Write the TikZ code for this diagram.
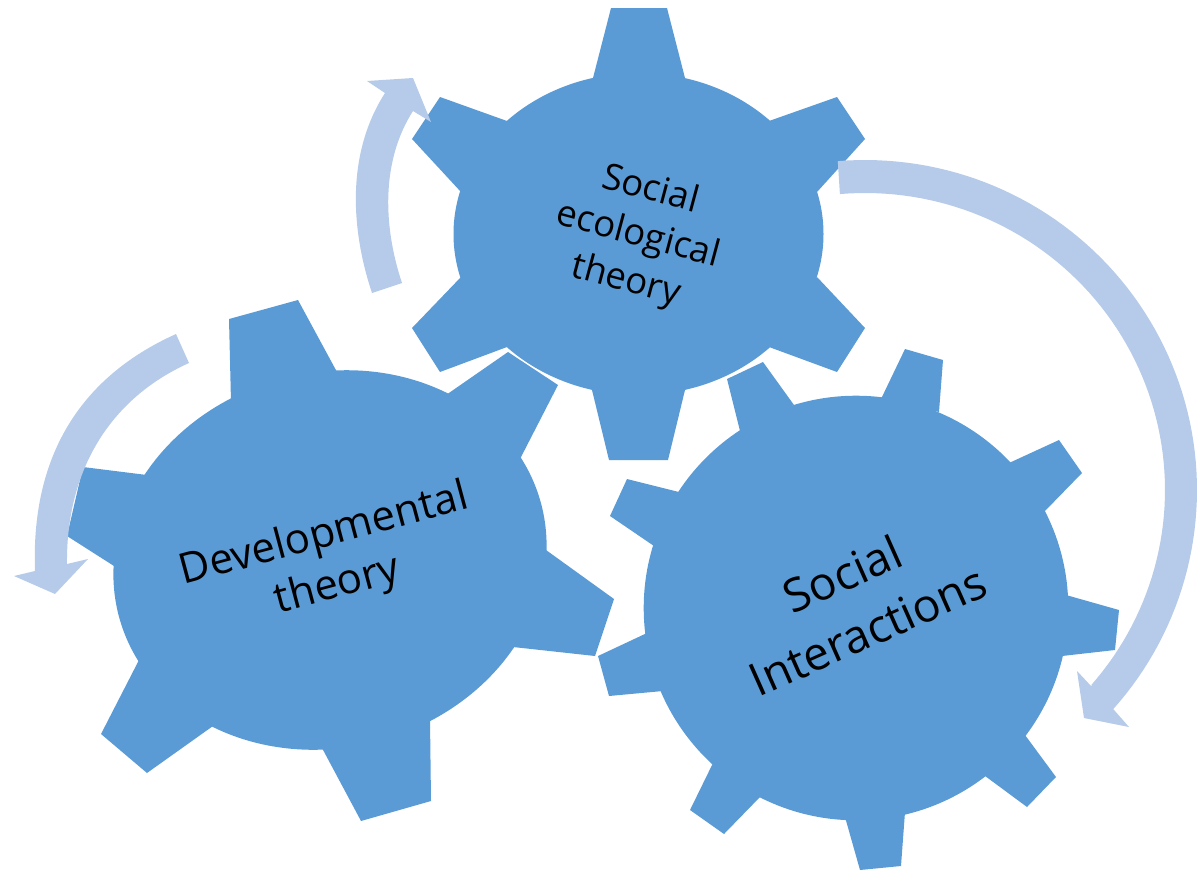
\documentclass[tikz,border=0pt]{standalone}
\usepackage{fontspec}
\setmainfont{Open Sans}
\definecolor{gearblue}{HTML}{5B9BD5}
\definecolor{arrowblue}{HTML}{B6CBE9}
\tikzset{
  gearhalo/.style={draw=white,line width=2pt,line join=miter},
  gearbody/.style={fill=gearblue},
  sweep/.style={fill=arrowblue,draw=none},
  gearlabel/.style={text=black,align=center,inner sep=0pt}
}
\newcommand{\devgear}[1]{%
  \path[#1,rotate around={15:(330,560)}] (330,560) ellipse [x radius=218.5pt,y radius=187.5pt];
  \path[#1] (231,402) -- (229,319) -- (298,300) -- (337,372) -- cycle;
  \path[#1] (446,395) -- (508,352) -- (558,385) -- (520,459) -- cycle;
  \path[#1] (546,550) -- (614,599) -- (595,656) -- (513,647) -- cycle;
  \path[#1] (430,719) -- (431,801) -- (361,821) -- (322,748) -- cycle;
  \path[#1] (213,726) -- (147,773) -- (101,734) -- (139,660) -- cycle;
  \path[#1] (114,566) -- (67,536) -- (83,467) -- (147,475) -- cycle;
}
\newcommand{\socgear}[1]{%
  \path[#1] (856,608) circle [radius=212.3pt];
  \path[#1] (740,431) -- (727,379) -- (763,362) -- (794,405) -- cycle;
  \path[#1] (881,399) -- (905,349) -- (943,360) -- (939,412) -- cycle;
  \path[#1] (1009,463) -- (1059,440) -- (1082,473) -- (1044,512) -- cycle;
  \path[#1] (1066,595) -- (1119,610) -- (1115,650) -- (1062,656) -- cycle;
  \path[#1] (1025,735) -- (1056,777) -- (1027,807) -- (981,773) -- cycle;
  \path[#1] (905,812) -- (901,866) -- (860,870) -- (845,817) -- cycle;
  \path[#1] (761,796) -- (724,834) -- (690,810) -- (714,761) -- cycle;
  \path[#1] (663,691) -- (609,696) -- (598,656) -- (647,633) -- cycle;
  \path[#1] (654,546) -- (610,516) -- (627,479) -- (679,492) -- cycle;
}
\newcommand{\ecogear}[1]{%
  \path[#1] (638.5,234) ellipse [x radius=185pt,y radius=161pt];
  \path[#1] (593,78) -- (611,8) -- (667,8) -- (685,78) -- cycle;
  \path[#1] (769,121) -- (837,97) -- (865,139) -- (817,192) -- cycle;
  \path[#1] (817,277) -- (865,328) -- (837,372) -- (769,347) -- cycle;
  \path[#1] (685,390) -- (668,460) -- (609,460) -- (592,390) -- cycle;
  \path[#1] (507,347) -- (440,372) -- (412,328) -- (461,277) -- cycle;
  \path[#1] (461,192) -- (412,139) -- (440,97) -- (507,121) -- cycle;
}
\begin{document}
\begin{tikzpicture}[x=1pt,y=-1pt]
\useasboundingbox (0,0) rectangle (1197,871);
\devgear{gearbody}
\socgear{gearbody}
\ecogear{gearhalo}
\ecogear{gearbody}
% left arrow
\path[sweep] (176,334) .. controls (76,379) and (31,461) .. (35,571)
  -- (14,576) -- (55,594) -- (88,559) -- (67,564)
  .. controls (66,474) and (107,400) .. (189,363) -- cycle;
% upper-left arrow
\path[sweep] (372,293) .. controls (350,227) and (347,152) .. (385,93)
  -- (367,81) -- (413,78) -- (431,122) -- (413,111)
  .. controls (381,161) and (383,226) .. (402,283) -- cycle;
% right arrow
\path[sweep] plot[domain=-94.7:41.6,samples=80] ({865+332*cos(\x)},{490+330*sin(\x)})
  -- (1129,727) -- (1084,718) -- (1077,671) -- (1092,687)
  -- plot[domain=41:-94.8,samples=80] ({865+300*cos(\x)},{490+297*sin(\x)}) -- cycle;
% labels
\node[gearlabel,rotate=-15,font=\fontsize{36.5}{47}\selectfont] (eco) at (638,236) {Social\\ecological\\theory};
\node[gearlabel,rotate=15,font=\fontsize{42}{52}\selectfont] (dev) at (331,561) {Developmental\\theory};
\node[gearlabel,rotate=24,font=\fontsize{46}{62}\selectfont] (soc) at (855,602) {Social\\Interactions};
\end{tikzpicture}
\end{document}
